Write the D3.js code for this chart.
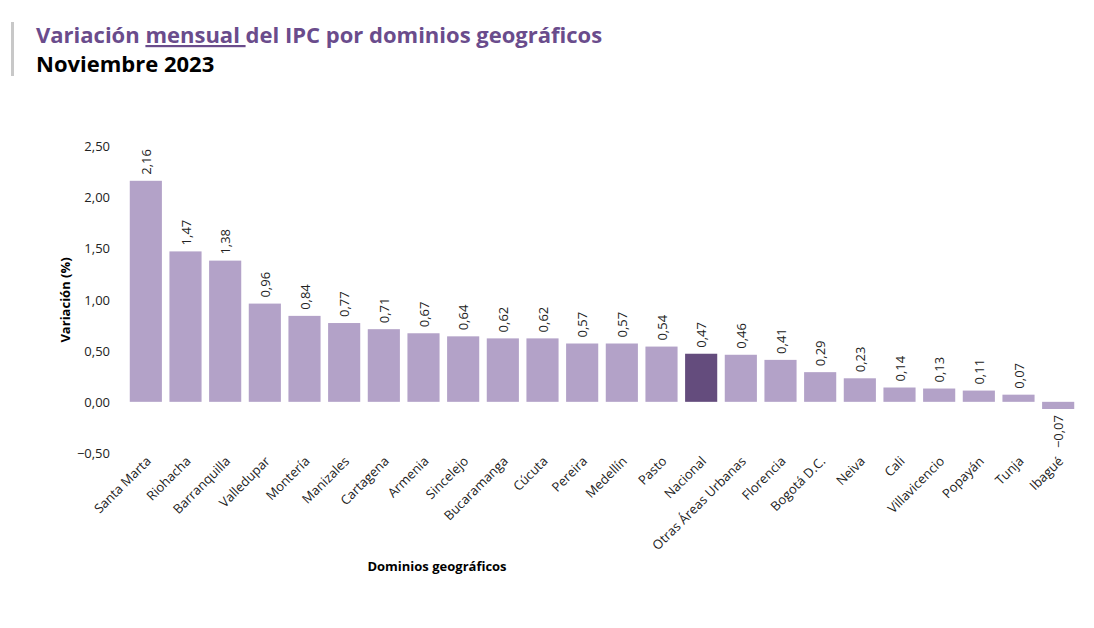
<!DOCTYPE html>
<html><head><meta charset="utf-8">
<script src="https://cdn.jsdelivr.net/npm/d3@7"></script>
<style>body{margin:0;background:#fff;font-family:"Open Sans",sans-serif}</style>
</head><body>
<svg id="c" width="1094" height="628"></svg>
<script>
const categories=["Santa Marta","Riohacha","Barranquilla","Valledupar","Montería","Manizales","Cartagena","Armenia","Sincelejo","Bucaramanga","Cúcuta","Pereira","Medellín","Pasto","Nacional","Otras Áreas Urbanas","Florencia","Bogotá D.C.","Neiva","Cali","Villavicencio","Popayán","Tunja","Ibagué"];
const values=[2.16,1.47,1.38,0.96,0.84,0.77,0.71,0.67,0.64,0.62,0.62,0.57,0.57,0.54,0.47,0.46,0.41,0.29,0.23,0.14,0.13,0.11,0.07,-0.07];
const yTicks=[-0.5,0,0.5,1,1.5,2,2.5];
const svg=d3.select("#c");
const fmt=v=>d3.format(".2f")(v).replace(".",",");
svg.append("rect").attr("x",11).attr("y",22).attr("width",3).attr("height",54).attr("fill","#c8c8c8");
const t=svg.append("text").attr("x",36).attr("y",43).attr("font-size",22).attr("font-weight",700).attr("fill","#6a4c8c");
t.append("tspan").text("Variación ");
t.append("tspan").attr("text-decoration","underline").text("mensual ");
t.append("tspan").text("del IPC por dominios geográficos");
svg.append("text").attr("x",36).attr("y",72).attr("font-size",22).attr("font-weight",700).attr("fill","#000").text("Noviembre 2023");
const x=d3.scaleBand().domain(categories).range([126,1078]).paddingInner(0.19).paddingOuter(0.095);
const y=d3.scaleLinear().domain([-0.5,2.5]).range([453,146]);
svg.append("g").selectAll("text").data(yTicks).join("text").attr("x",110).attr("y",d=>y(d)+5)
 .attr("text-anchor","end").attr("font-size",13).attr("fill","#222").text(fmt);
svg.append("g").selectAll("rect").data(values).join("rect")
 .attr("x",(d,i)=>x(categories[i])).attr("width",x.bandwidth())
 .attr("y",d=>y(Math.max(0,d))).attr("height",d=>Math.abs(y(d)-y(0)))
 .attr("fill",(d,i)=>categories[i]==="Nacional"?"#644c7d":"#b3a2c8");
svg.append("g").selectAll("text").data(values).join("text")
 .attr("transform",(d,i)=>{const cx=x(categories[i])+x.bandwidth()/2+5;return d>=0?`translate(${cx},${y(d)-6}) rotate(-90)`:`translate(${cx},${y(d)+6}) rotate(-90)`;})
 .attr("text-anchor",d=>d>=0?"start":"end").attr("font-size",13).attr("fill","#222").text(fmt);
svg.append("g").selectAll("text").data(categories).join("text")
 .attr("transform",d=>`translate(${x(d)+x.bandwidth()/2+6},${462}) rotate(-45)`)
 .attr("text-anchor","end").attr("font-size",13).attr("fill","#222").text(d=>d);
svg.append("text").attr("transform","translate(70,300) rotate(-90)").attr("text-anchor","middle").attr("font-size",13).attr("font-weight",700).text("Variación (%)");
svg.append("text").attr("x",437).attr("y",571).attr("text-anchor","middle").attr("font-size",13).attr("font-weight",700).text("Dominios geográficos");
</script></body></html>
